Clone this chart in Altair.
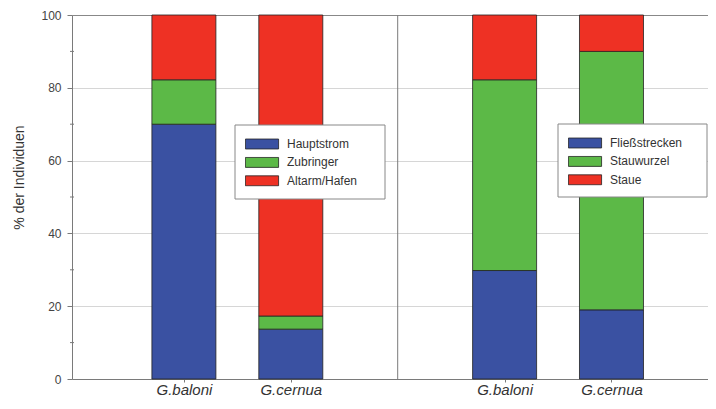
import altair as alt
import pandas as pd

species = ["G.baloni", "G.cernua"]
left_cats = ["Hauptstrom", "Zubringer", "Altarm/Hafen"]
right_cats = ["Fließstrecken", "Stauwurzel", "Staue"]
# percentage of individuals per category (bottom to top)
left_baloni = [70.0, 12.2, 17.8]
left_cernua = [13.7, 3.6, 82.7]
right_baloni = [29.8, 52.4, 17.8]
right_cernua = [19.0, 71.0, 10.0]
colors = ["#3a51a2", "#5cb947", "#ee3124"]
y_ticks = [0, 20, 40, 60, 80, 100]
minor_ticks = [10, 30, 50, 70, 90]
divider = [3]


def build(cats, series, panel):
    rows = []
    for si, vals in enumerate(series):
        for ci, (c, v) in enumerate(zip(cats, vals)):
            rows.append({"pos": panel * 3 + si + 1, "species": species[si],
                         "cat": c, "ord": ci, "val": v})
    return pd.DataFrame(rows)


left_df = build(left_cats, [left_baloni, left_cernua], 0)
right_df = build(right_cats, [right_baloni, right_cernua], 1)

slot_labels = ["", species[0], species[1], "", species[0], species[1], ""]
label_expr = "[" + ",".join("'" + s + "'" for s in slot_labels) + "][datum.value]"

FONT = "Liberation Sans"
AX = "#7a7a7a"

x_axis = alt.Axis(values=[1, 2, 4, 5], labelExpr=label_expr, title=None, grid=False,
                  tickSize=3, tickColor=AX, domainColor=AX, labelFontSize=15,
                  labelFontStyle="italic", labelColor="#333", labelPadding=0,
                  labelFont=FONT)
x_scale = alt.Scale(domain=[0, 5.856], nice=False, zero=False)

y_axis = alt.Axis(values=y_ticks, title="% der Individuen", grid=True,
                  gridColor=alt.condition("datum.value === 100", alt.value("#888888"), alt.value("#d6d6d6")),
                  tickSize=5, tickColor=AX, domainColor=AX, labelFontSize=12,
                  labelColor="#444", labelPadding=6, labelFont=FONT,
                  titleFontSize=14, titleFontWeight="normal", titleColor="#333",
                  titleFont=FONT, titleAngle=270, titleX=-49, titleY=162,
                  titleBaseline="alphabetic", titleAlign="center")
y_scale = alt.Scale(domain=[0, 100], nice=False)

SYM = "M-1,-0.3L1,-0.3L1,0.3L-1,0.3Z"


def legend(x, y):
    return alt.Legend(title=None, orient="none", legendX=x, legendY=y, symbolType=SYM,
                      symbolSize=1100, symbolStrokeColor="#222", symbolStrokeWidth=0.8,
                      symbolOpacity=1, labelFontSize=12, labelFont=FONT, labelColor="#333",
                      labelOffset=8, clipHeight=12, rowPadding=6.4, padding=0)


def bars(df, cats, leg):
    return alt.Chart(df).mark_bar(size=64, stroke="#222", strokeWidth=0.8).encode(
        x=alt.X("pos:Q", scale=x_scale, axis=x_axis),
        y=alt.Y("val:Q", scale=y_scale, axis=y_axis, stack="zero"),
        color=alt.Color("cat:N", scale=alt.Scale(domain=cats, range=colors),
                        sort=cats, legend=leg),
        order=alt.Order("ord:Q", sort="ascending"),
    )


left_bars = bars(left_df, left_cats, legend(173, 123))
right_bars = bars(right_df, right_cats, legend(496, 122))

div_rule = alt.Chart(pd.DataFrame({"pos": divider})).mark_rule(color=AX, strokeWidth=1).encode(
    x=alt.X("pos:Q", scale=x_scale, axis=x_axis))

minor = alt.Chart(pd.DataFrame({"val": minor_ticks})).mark_rule(color=AX, strokeWidth=1).encode(
    y=alt.Y("val:Q", scale=y_scale, axis=y_axis), x=alt.value(-2), x2=alt.value(2))

one = pd.DataFrame({"a": [0]})
box_left = alt.Chart(one).mark_rect(fill="white", stroke="#888", strokeWidth=1).encode(
    x=alt.value(163), x2=alt.value(313), y=alt.value(110), y2=alt.value(184))
box_right = alt.Chart(one).mark_rect(fill="white", stroke="#888", strokeWidth=1).encode(
    x=alt.value(486), x2=alt.value(635), y=alt.value(109), y2=alt.value(182))

chart = alt.layer(left_bars, right_bars, div_rule, minor, box_left, box_right).resolve_scale(
    color="independent"
).properties(
    width=636, height=364,
    autosize=alt.AutoSizeParams(type="none"),
    padding={"left": 64, "top": 7, "right": 0, "bottom": 18},
).configure_view(strokeWidth=0).configure(font=FONT, background="white")

chart.save("out.html", embed_options={"renderer": "svg", "actions": False})
